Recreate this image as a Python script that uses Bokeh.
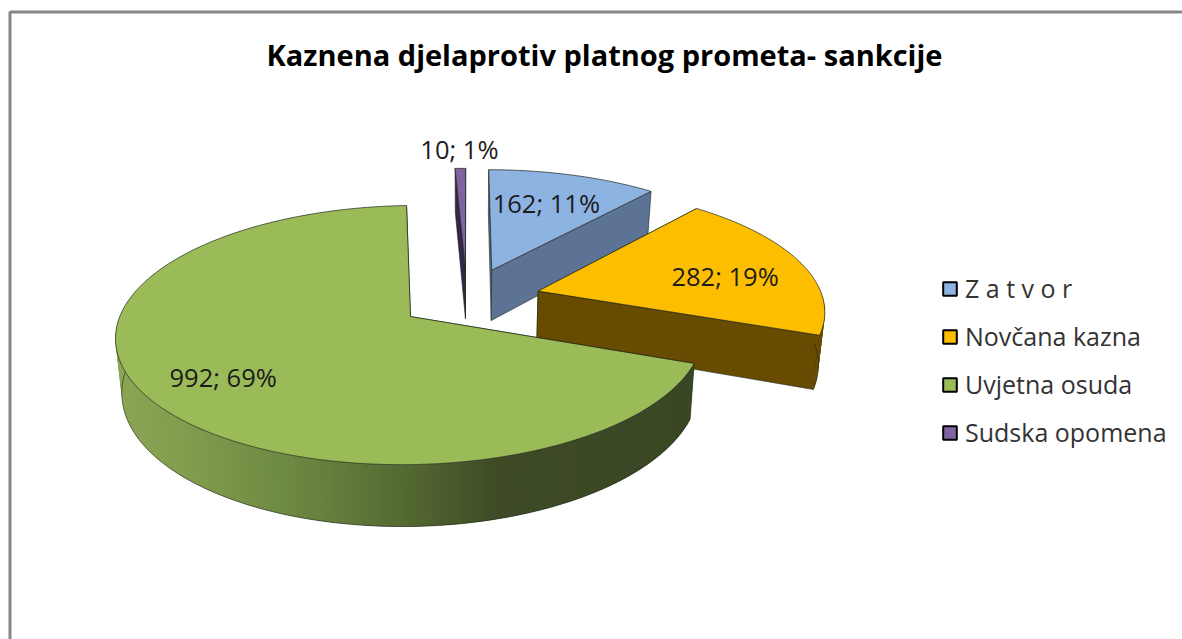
import numpy as np
from bokeh.plotting import figure
from bokeh.models import Legend, LegendItem
from bokeh.core.properties import value
from bokeh.embed import file_html
from bokeh.resources import INLINE

# ---- data ----
categories = ["Z a t v o r", "Novčana kazna", "Uvjetna osuda", "Sudska opomena"]
counts = [162, 282, 992, 10]
percent_labels = ["11%", "19%", "69%", "1%"]
title_text = "Kaznena djelaprotiv platnog prometa- sankcije"

# ---- style ----
top_colors = ["#8DB3E2", "#FDBE00", "#9BBB59", "#8064A2"]
face_colors = ["#5C7396", "#664B00", "#3E4B24", "#34264A"]
wall_stops = [
    [(100, "#5C7396"), (1100, "#5C7396")],
    [(100, "#664B00"), (1100, "#664B00")],
    [(115, "#8BA654"), (200, "#7F9A4C"), (300, "#6C8640"), (400, "#566B33"), (500, "#3E4B26"), (700, "#3A4724")],
    [(100, "#34264A"), (1100, "#34264A")],
]
label_radius = [0.68, 0.69, 0.74, 1.22]
label_shift_deg = [-1, 4, -1, 0]
explode = [0.26, 0.26, 0.24, 0.26]

CX, CY, A, B, K = 466.5, 298.5, 285.0, 122.0, 0.14
DEPTH, BOTTOM_SCALE = 52.0, 0.982
EDGE = "#20261a"
W, H = 1182, 639


def project(u, v, bottom=False):
    w = 1 + K * v
    x = A * u / w
    y = CY - B * v / w
    if bottom:
        x = x * BOTTOM_SCALE
        y = y + DEPTH / w
    return CX + x, y


def hex2rgb(h):
    return np.array([int(h[i:i + 2], 16) for i in (1, 3, 5)], dtype=float)


def shade(stops, x):
    xs = [s[0] for s in stops]
    rgb = np.array([hex2rgb(s[1]) for s in stops])
    c = [int(round(np.interp(x, xs, rgb[:, i]))) for i in range(3)]
    return "#%02x%02x%02x" % tuple(c)


total = sum(counts)
fractions = [c / total for c in counts]
starts = np.cumsum([0] + fractions[:-1]) * 2 * np.pi
ends = np.cumsum(fractions) * 2 * np.pi

p = figure(width=W, height=H, x_range=(0, W), y_range=(H, 0),
           output_backend="svg", toolbar_location=None, min_border=0)
p.axis.visible = False
p.grid.visible = False
p.outline_line_color = None
p.background_fill_color = "white"
p.border_fill_color = "white"

# chart-area border (runs off the picture at right and bottom)
p.line([9.5, 9.5, W], [H, 11.5, 11.5], line_color="#868686", line_width=3)

labels_x, labels_y, labels_t = [], [], []
for i, (a0, a1) in enumerate(zip(starts, ends)):
    mid = (a0 + a1) / 2
    ox, oy = explode[i] * np.sin(mid), explode[i] * np.cos(mid)
    t = np.linspace(a0, a1, max(3, int(np.degrees(a1 - a0)) + 1))
    ux, vy = ox + np.sin(t), oy + np.cos(t)
    tx, ty = project(ux, vy)
    bx, by = project(ux, vy, True)
    ax, ay = project(ox, oy)
    abx, aby = project(ox, oy, True)

    # two cut faces
    for j in (0, -1):
        p.patch([ax, tx[j], bx[j], abx], [ay, ty[j], by[j], aby],
                fill_color=face_colors[i], line_color=EDGE, line_width=0.6)
    # outer wall: only the part that faces the viewer, shaded piece by piece
    front = np.where(np.cos(t) < 0)[0]
    if len(front) > 1:
        wx, wy, wc = [], [], []
        n = len(front)
        for k in range(n - 1):
            j0, j1 = front[k], front[min(k + 2, n - 1)]
            wx.append([tx[j0], tx[j1], bx[j1], bx[j0]])
            wy.append([ty[j0], ty[j1], by[j1], by[j0]])
            wc.append(shade(wall_stops[i], tx[j0]))
        p.patches(wx, wy, fill_color=wc, line_color=None)
        p.line(bx[front], by[front], line_color=EDGE, line_width=0.6)
    # top face
    p.patch(np.r_[ax, tx], np.r_[ay, ty], fill_color=top_colors[i],
            line_color=EDGE, line_width=0.7)

    la = mid + np.radians(label_shift_deg[i])
    lx, ly = project(ox + label_radius[i] * np.sin(la), oy + label_radius[i] * np.cos(la))
    labels_x.append(lx)
    labels_y.append(ly)
    labels_t.append(f"{counts[i]}; {percent_labels[i]}")

p.text(labels_x, labels_y, text=labels_t, text_font=value("Open Sans"), text_font_size="25.5px",
       text_color="#1c1c1c", text_align="center", text_baseline="middle")

p.text([604], [54], text=[title_text], text_font=value("Open Sans"), text_font_style="bold",
       text_font_size="29px", text_color="#000000", text_align="center", text_baseline="middle")

# legend
items = []
for name, col in zip(categories, top_colors):
    r = p.quad(left=[np.nan], right=[np.nan], top=[np.nan], bottom=[np.nan],
               fill_color=col, line_color="#000000", line_width=2)
    items.append(LegendItem(label=name, renderers=[r]))
legend = Legend(items=items, location=(941, 190), orientation="vertical",
                glyph_width=17, glyph_height=17, label_standoff=7, spacing=14,
                padding=0, margin=0, border_line_color=None, background_fill_alpha=0,
                label_text_font="Open Sans", label_text_font_size="25px", label_text_color="#333333")
p.add_layout(legend)

open("out.html", "w").write(file_html(p, INLINE))
